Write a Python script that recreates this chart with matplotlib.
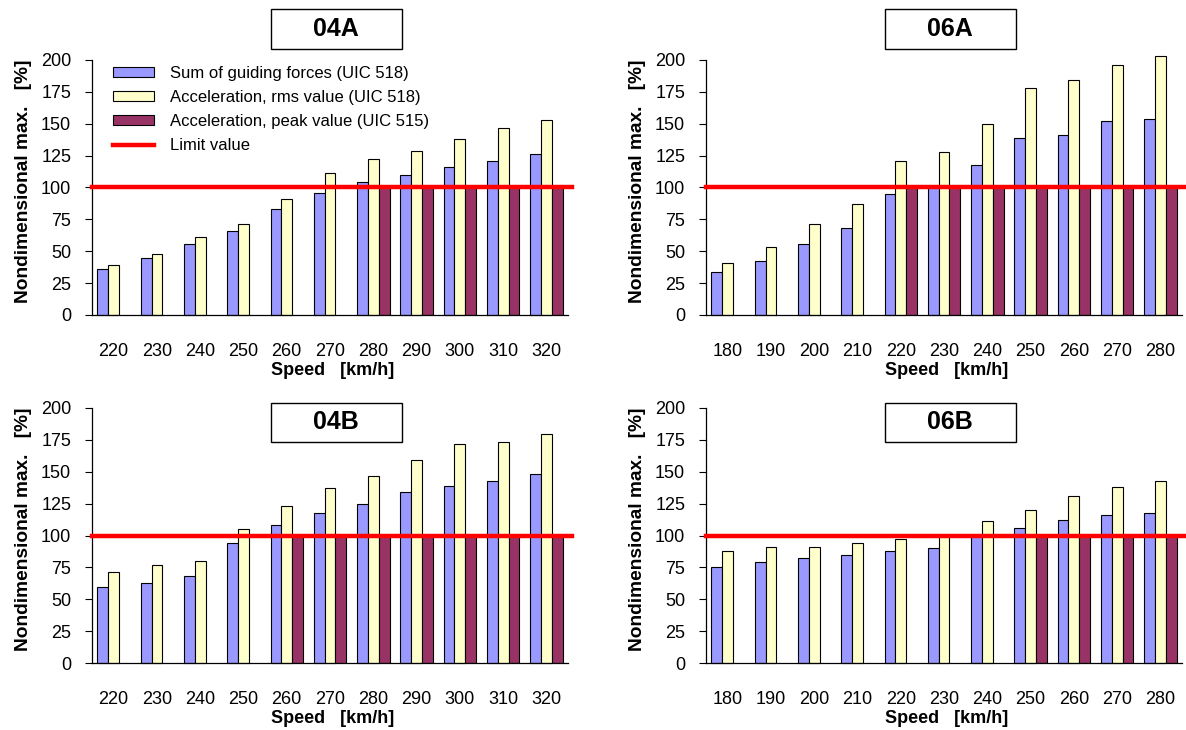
import numpy as np
import matplotlib
matplotlib.use("Agg")
from matplotlib import pyplot as plt
from matplotlib.patches import Rectangle

plt.rcParams["font.family"] = ["Liberation Sans", "DejaVu Sans"]

# Speeds per panel
speeds_04 = [220, 230, 240, 250, 260, 270, 280, 290, 300, 310, 320]
speeds_06 = [180, 190, 200, 210, 220, 230, 240, 250, 260, 270, 280]

# 04A
guiding_04a = [36, 45, 56, 66, 83, 96, 104, 110, 116, 121, 126]
rms_04a = [39, 48, 61, 71, 91, 111, 122, 129, 138, 147, 153]
peak_04a = [0, 0, 0, 0, 0, 0, 100, 100, 100, 100, 100]

# 06A
guiding_06a = [34, 42, 56, 68, 95, 100, 118, 139, 141, 152, 154]
rms_06a = [41, 53, 71, 87, 121, 128, 150, 178, 184, 196, 203]
peak_06a = [0, 0, 0, 0, 100, 100, 100, 100, 100, 100, 100]

# 04B
guiding_04b = [60, 63, 68, 94, 108, 118, 125, 134, 139, 143, 148]
rms_04b = [71, 77, 80, 105, 123, 137, 147, 159, 172, 173, 180]
peak_04b = [0, 0, 0, 0, 100, 100, 100, 100, 100, 100, 100]

# 06B
guiding_06b = [75, 79, 82, 85, 88, 90, 100, 106, 112, 116, 118]
rms_06b = [88, 91, 91, 94, 97, 100, 111, 120, 131, 138, 143]
peak_06b = [0, 0, 0, 0, 0, 0, 0, 100, 100, 100, 100]

limit_value = 100

labels = ["Sum of guiding forces (UIC 518)",
          "Acceleration, rms value (UIC 518)",
          "Acceleration, peak value (UIC 515)",
          "Limit value"]
colors = ["#9999FF", "#FFFFCC", "#993366"]

panels = [
    ("04A", speeds_04, guiding_04a, rms_04a, peak_04a),
    ("06A", speeds_06, guiding_06a, rms_06a, peak_06a),
    ("04B", speeds_04, guiding_04b, rms_04b, peak_04b),
    ("06B", speeds_06, guiding_06b, rms_06b, peak_06b),
]

W, H = 1186, 730
fig = plt.figure(figsize=(W / 100, H / 100), dpi=100)

# axes boxes in pixels: left, top-of-axis (y=200), bottom-of-axis (y=0)
boxes = [(92, 60, 315), (706, 60, 315), (92, 408, 663), (706, 408, 663)]
ax_w = 476

for (name, speeds, g, r, p), (left, top, bottom) in zip(panels, boxes):
    ax = fig.add_axes([left / W, 1 - bottom / H, ax_w / W, (bottom - top) / H])
    x = np.arange(len(speeds))
    w = 0.25
    b1 = ax.bar(x - w, g, w, color=colors[0], edgecolor="black", linewidth=0.8, clip_on=False)
    b2 = ax.bar(x, r, w, color=colors[1], edgecolor="black", linewidth=0.8, clip_on=False)
    pk = np.array(p, dtype=float)
    mask = pk > 0
    b3 = ax.bar(x[mask] + w, pk[mask], w, color=colors[2], edgecolor="black", linewidth=0.8)
    ln = ax.axhline(limit_value, xmax=1.008, color="#FF0000", linewidth=3.2,
                    zorder=5, clip_on=False)

    ax.set_xlim(-0.5, len(speeds) - 0.5)
    ax.set_ylim(0, 200)
    ax.set_yticks(np.arange(0, 201, 25))
    ax.set_xticks(x)
    ax.set_xticklabels([str(s) for s in speeds])
    ax.tick_params(axis="x", length=0, pad=20, labelsize=13)
    ax.tick_params(axis="y", length=5, width=0.8, pad=10, labelsize=13, direction="out")
    for s in ["top", "right"]:
        ax.spines[s].set_visible(False)
    for s in ["left", "bottom"]:
        ax.spines[s].set_linewidth(0.9)

    ax.set_ylabel("Nondimensional max.   [%]", fontsize=13.8, fontweight="bold")
    ax.yaxis.set_label_coords(-0.125, 0.524)
    ax.set_xlabel("Speed   [km/h]", fontsize=13, fontweight="bold")
    ax.xaxis.set_label_coords(0.505, -0.185)

    # title box
    if top == 60:
        y0, y1 = 1.043, 1.199
    else:
        y0, y1 = 0.867, 1.0196
    ax.add_patch(Rectangle((0.3754, y0), 0.2752, y1 - y0, transform=ax.transAxes,
                           facecolor="white", edgecolor="black", linewidth=1.0,
                           clip_on=False, zorder=6))
    ax.text(0.513, (y0 + y1) / 2, name, transform=ax.transAxes, ha="center",
            va="center", fontsize=18, fontweight="bold", zorder=7)

    if name == "04A":
        ax.legend([b1, b2, b3, ln], labels, loc="upper left",
                  bbox_to_anchor=(0.0435, 0.976), frameon=False, fontsize=12,
                  handlelength=2.5, handleheight=0.55, handletextpad=0.95,
                  labelspacing=0.54, borderpad=0, borderaxespad=0)

fig.savefig("out.png", dpi=100)
